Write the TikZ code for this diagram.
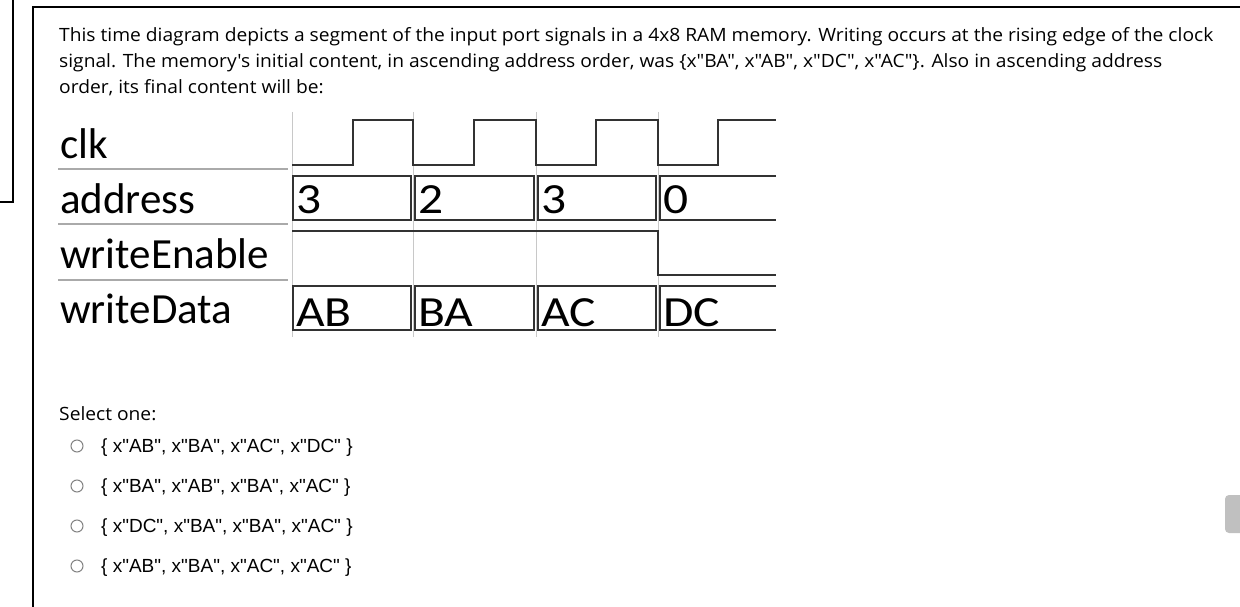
\documentclass[tikz,border=0pt]{standalone}
\usepackage{fontspec}
\setmainfont{Open Sans}
\newfontfamily\qfont[FakeStretch=1.05]{Open Sans}
\newfontfamily\wavefont{Carlito}
\newfontfamily\busfont[FakeStretch=1.15]{Carlito}
\newfontfamily\optfont{Liberation Sans}
\usepackage{tikz}
\definecolor{gridgray}{RGB}{200,200,200}
\definecolor{sepgray}{RGB}{170,170,170}
\definecolor{wavegray}{RGB}{50,50,50}
\definecolor{radiogray}{RGB}{130,130,130}
\definecolor{thumbgray}{RGB}{192,192,192}
\tikzset{
  wave/.style={color=wavegray,line width=1.4pt},
  gridline/.style={color=gridgray,line width=1pt},
  sepline/.style={color=sepgray,line width=2pt},
  siglabel/.style={anchor=base west,inner sep=0pt,font=\wavefont\fontsize{43}{43}\selectfont},
  buslabel/.style={anchor=base west,inner sep=0pt,font=\busfont\fontsize{43}{43}\selectfont},
  qtext/.style={anchor=base west,inner sep=0pt,font=\qfont\fontsize{18.3}{20}\selectfont},
  opttext/.style={anchor=base west,inner sep=0pt,font=\optfont\fontsize{19}{20}\selectfont},
  radio/.style={circle,draw=radiogray,line width=1pt,minimum size=12pt,inner sep=0pt}
}

\begin{document}
\begin{tikzpicture}[x=1pt,y=1pt,yscale=-1,xscale=1]
      \useasboundingbox (0,0) rectangle (1240,607);
      % page frame
      \draw [line width=1.5pt] (0,202) -- (13,202) -- (13,0) ;
      \draw [line width=1.5pt] (1240,7) -- (33,7) -- (33,607) ;
      \fill [thumbgray,rounded corners=4pt] (1225,495) rectangle (1250,533) ;
      % question text
      \node (line1) at (59,42) [qtext] {This time diagram depicts a segment of the input port signals in a 4x8 RAM memory. Writing occurs at the rising edge of the clock};
      \node (line2) at (59,68) [qtext] {signal. The memory's initial content, in ascending address order, was \{x"BA", x"AB", x"DC", x"AC"\}. Also in ascending address};
      \node (line3) at (59,94) [qtext] {order, its final content will be:};
      % signal names
      \node (clk) at (60,159) [siglabel] {clk};
      \node (address) at (60,213) [siglabel] {address};
      \node (we) at (60,268) [siglabel] {writeEnable};
      \node (wd) at (60,323) [siglabel] {writeData};
      \draw [sepline] (58,169) -- (288,169) ;
      \draw [sepline] (58,224) -- (288,224) ;
      \draw [sepline] (58,280) -- (288,280) ;
      % clock edges grid
      \draw [gridline] (292,112) -- (292,337) ;
      \draw [gridline] (413,112) -- (413,337) ;
      \draw [gridline] (536,112) -- (536,337) ;
      \draw [gridline] (658,112) -- (658,337) ;
      % clk
      \draw [wave] (292,165) -- (353,165) -- (353,120) -- (413,120) -- (413,165)
             -- (474,165) -- (474,120) -- (536,120) -- (536,165)
             -- (596,165) -- (596,120) -- (658,120) -- (658,165)
             -- (718,165) -- (718,120) -- (776,120) ;
      % address
      \draw [wave] (293,176) rectangle (411,220) ;
      \draw [wave] (415,176) rectangle (534,220) ;
      \draw [wave] (538,176) rectangle (656,220) ;
      \draw [wave] (776,176) -- (660,176) -- (660,220) -- (776,220) ;
      \node (a0) at (296,213) [buslabel] {3};
      \node (a1) at (418,213) [buslabel] {2};
      \node (a2) at (541,213) [buslabel] {3};
      \node (a3) at (663,213) [buslabel] {0};
      % writeEnable
      \draw [wave] (292,231) -- (658,231) -- (658,275) -- (776,275) ;
      % writeData
      \draw [wave] (293,286) rectangle (411,330) ;
      \draw [wave] (415,286) rectangle (534,330) ;
      \draw [wave] (538,286) rectangle (656,330) ;
      \draw [wave] (776,286) -- (660,286) -- (660,330) -- (776,330) ;
      \node (d0) at (296,326) [buslabel] {AB};
      \node (d1) at (418,326) [buslabel] {BA};
      \node (d2) at (541,326) [buslabel] {AC};
      \node (d3) at (663,326) [buslabel] {DC};
      % answers
      \node (sel) at (59,420) [qtext] {Select one:};
      \node (r1) at (77,446) [radio] {};
      \node (r2) at (77,486) [radio] {};
      \node (r3) at (77,526) [radio] {};
      \node (r4) at (77,566) [radio] {};
      \node (o1) at (101,452) [opttext] {\{ x"AB", x"BA", x"AC", x"DC" \}};
      \node (o2) at (101,492) [opttext] {\{ x"BA", x"AB", x"BA", x"AC" \}};
      \node (o3) at (101,532) [opttext] {\{ x"DC", x"BA", x"BA", x"AC" \}};
      \node (o4) at (101,572) [opttext] {\{ x"AB", x"BA", x"AC", x"AC" \}};
    \end{tikzpicture}
\end{document}
